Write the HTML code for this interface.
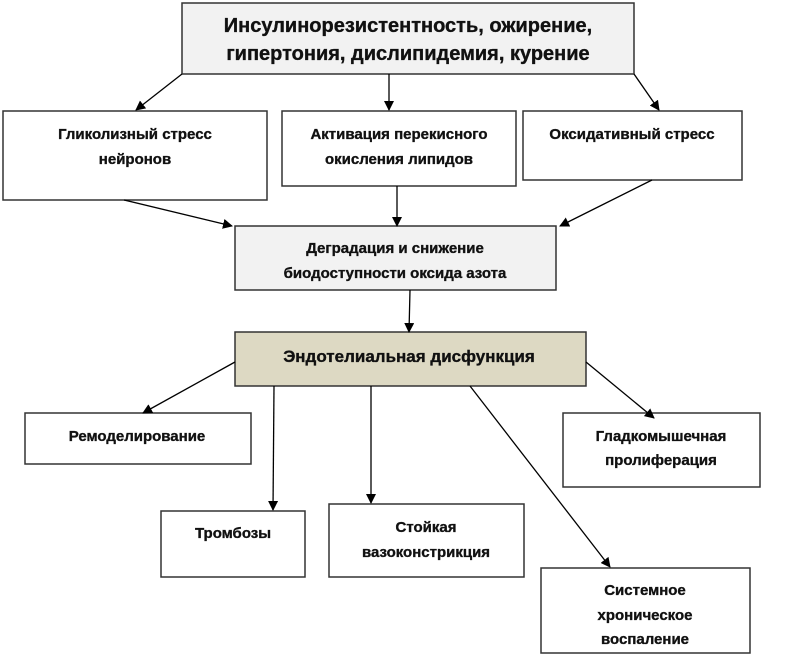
<!DOCTYPE html>
<html><head><meta charset="utf-8"><style>
body{margin:0;background:#fff}
text{font-family:"Liberation Sans","DejaVu Sans",sans-serif;font-weight:bold;fill:#111;stroke:#111;stroke-width:0.35;text-anchor:middle}
</style></head><body>
<svg width="802" height="657" viewBox="0 0 802 657" xmlns="http://www.w3.org/2000/svg">
<defs><marker id="a" markerWidth="10" markerHeight="10" refX="9" refY="5" orient="auto" markerUnits="userSpaceOnUse"><path d="M0,0 L10,5 L0,10 z" fill="#000"/></marker></defs>
<g stroke="#333" stroke-width="1.5">
<rect x="182" y="3" width="452" height="71" fill="#f2f2f2"/>
<rect x="3" y="111" width="264" height="89" fill="#fff"/>
<rect x="282" y="111" width="234" height="75" fill="#fff"/>
<rect x="523" y="111" width="219" height="69" fill="#fff"/>
<rect x="235" y="226" width="321" height="64" fill="#f2f2f2"/>
<rect x="235" y="332" width="351" height="54" fill="#ddd9c3"/>
<rect x="25" y="413" width="226" height="51" fill="#fff"/>
<rect x="563" y="413" width="197" height="74" fill="#fff"/>
<rect x="161" y="511" width="144" height="66" fill="#fff"/>
<rect x="329" y="504" width="195" height="73" fill="#fff"/>
<rect x="541" y="568" width="209" height="85" fill="#fff"/>
</g>
<g stroke="#000" stroke-width="1.3" marker-end="url(#a)">
<line x1="182" y1="74" x2="136" y2="110"/>
<line x1="389" y1="74" x2="389" y2="110"/>
<line x1="634" y1="74" x2="659" y2="110"/>
<line x1="124" y1="200" x2="232" y2="226"/>
<line x1="397" y1="186" x2="397" y2="226"/>
<line x1="652" y1="180" x2="560" y2="226"/>
<line x1="410" y1="290" x2="409" y2="332"/>
<line x1="235" y1="362" x2="143" y2="413"/>
<line x1="274" y1="386" x2="273" y2="510"/>
<line x1="371" y1="386" x2="371" y2="503"/>
<line x1="470" y1="386" x2="610" y2="567"/>
<line x1="586" y1="362" x2="654" y2="418"/>
</g>
<text x="408" y="32" font-size="20">Инсулинорезистентность,  ожирение,</text>
<text x="408" y="60" font-size="20">гипертония, дислипидемия, курение</text>
<text x="135" y="139" font-size="15">Гликолизный стресс</text>
<text x="135" y="164" font-size="15">нейронов</text>
<text x="399" y="139" font-size="15">Активация перекисного</text>
<text x="399" y="164" font-size="15">окисления липидов</text>
<text x="632" y="139" font-size="15">Оксидативный  стресс</text>
<text x="395" y="253" font-size="15">Деградация  и снижение</text>
<text x="395" y="278" font-size="15">биодоступности  оксида азота</text>
<text x="409" y="362" font-size="17">Эндотелиальная  дисфункция</text>
<text x="137" y="441" font-size="15">Ремоделирование</text>
<text x="661" y="441" font-size="15">Гладкомышечная</text>
<text x="661" y="465" font-size="15">пролиферация</text>
<text x="233" y="538" font-size="15">Тромбозы</text>
<text x="426" y="532" font-size="15">Стойкая</text>
<text x="426" y="557" font-size="15">вазоконстрикция</text>
<text x="645" y="595" font-size="15">Системное</text>
<text x="645" y="620" font-size="15">хроническое</text>
<text x="645" y="644" font-size="15">воспаление</text>
</svg>
</body></html>
